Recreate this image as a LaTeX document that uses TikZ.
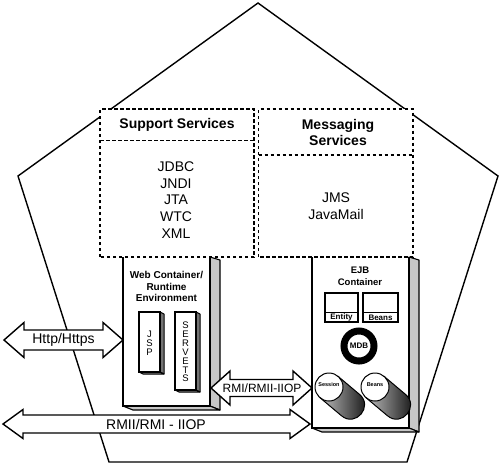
\documentclass[tikz,border=0pt]{standalone}
\usepackage{fontspec}
\setmainfont{Liberation Sans}
\begin{document}
\begin{tikzpicture}[x=1pt,y=-1pt,
  outline/.style={line width=1.4pt, line join=miter},
  dashline/.style={line width=1.5pt, dash pattern=on 3.5pt off 2.5pt},
  sidepanel/.style={fill=black!22, draw=black, line width=1.1pt, line join=round},
  darksidepanel/.style={fill=black!55, draw=black, line width=1pt, line join=round},
  dblarrow/.style={draw=black, fill=white, line width=1.4pt, line join=miter},
  lbl/.style={font=\fontsize{14}{16.6}\selectfont, align=center, inner sep=0pt},
  boldlbl/.style={font=\fontsize{14}{16}\selectfont\bfseries, align=center, inner sep=0pt},
  smallbold/.style={font=\fontsize{10}{11.5}\selectfont\bfseries, align=center, inner sep=0pt},
  letters/.style={font=\fontsize{9.5}{8.9}\selectfont, align=center, inner sep=0pt},
  tinybold/.style={font=\fontsize{8}{9}\selectfont\bfseries, inner sep=0pt},
  cyltext/.style={font=\fontsize{5.5}{6}\selectfont\bfseries, inner sep=0pt}]
\useasboundingbox (0,0) rectangle (500,464);
\fill[white] (0,0) rectangle (500,464);

% pentagon
\draw[outline] (258,3) -- (498,176) -- (407,462) -- (109,462) -- (18,176) -- cycle;

% services area background
\fill[white] (100,109) rectangle (413,257);

% ---------------- Web container ----------------
\fill[white] (123,257) rectangle (210,406);
\draw[sidepanel] (210,257) -- (220,260) -- (220,410) -- (210,406) -- cycle;
\draw[sidepanel] (123,406) -- (210,406) -- (220,410) -- (133,410) -- cycle;
\draw[outline] (123,257) -- (123,406) -- (210,406) -- (210,257);
\node[smallbold] (webtitle) at (166.5,286.5) {Web Container/\\Runtime\\Environment};

% JSP
\draw[darksidepanel] (160,312) -- (164,314) -- (164,374) -- (160,372) -- cycle;
\draw[darksidepanel] (139,372) -- (160,372) -- (164,374) -- (143,374) -- cycle;
\draw[outline, line width=1.1pt, fill=white] (139,312) rectangle (160,372);
\node[letters] (jsp) at (149.5,343) {J\\S\\P};

% SERVETS
\draw[darksidepanel] (196,312) -- (200,314) -- (200,392) -- (196,390) -- cycle;
\draw[darksidepanel] (175,390) -- (196,390) -- (200,392) -- (179,392) -- cycle;
\draw[outline, line width=1.1pt, fill=white] (175,312) rectangle (196,390);
\node[letters] (servets) at (185.5,352) {S\\E\\R\\V\\E\\T\\S};

% ---------------- EJB container ----------------
\fill[white] (312,257) rectangle (409,428);
\draw[sidepanel] (409,257) -- (419,260) -- (419,432) -- (409,428) -- cycle;
\draw[sidepanel] (312,428) -- (409,428) -- (419,432) -- (322,432) -- cycle;
\draw[outline] (312,257) -- (312,428) -- (409,428) -- (409,257);
\node[font=\fontsize{9.5}{12}\selectfont\bfseries, align=center, inner sep=0pt] (ejbtitle) at (360,276) {EJB\\Container};

% Entity / Beans boxes
\draw[line width=1.2pt, fill=white] (325,293) rectangle (358,322);
\draw[line width=1.2pt] (325,312.5) -- (358,312.5);
\node[tinybold] (entity) at (341.5,317.5) {Entity};
\draw[line width=1.2pt, fill=white] (363,293) rectangle (398,322);
\draw[line width=1.2pt] (363,312.5) -- (398,312.5);
\node[tinybold] (beans1) at (380.5,317.5) {Beans};

% MDB ring
\draw[line width=7pt, fill=white] (359,346) circle[radius=15pt];
\node[tinybold] (mdb) at (359,346) {MDB};

% cylinders
\begin{scope}[shift={(329,387)}]
  \shade[left color=black!25, right color=black, draw=black, line width=1pt]
    (9,-10.7) -- (30.4,7.3) .. controls (44.7,19.3) and (26.7,40.7) .. (12.4,28.7) -- (-9,10.7) -- cycle;
  \draw[line width=1pt, fill=white] (0,0) circle[radius=14pt];
  \node[cyltext] (session) at (0,-2) {Session};
\end{scope}
\begin{scope}[shift={(375,387)}]
  \shade[left color=black!25, right color=black, draw=black, line width=1pt]
    (9,-10.7) -- (30.4,7.3) .. controls (44.7,19.3) and (26.7,40.7) .. (12.4,28.7) -- (-9,10.7) -- cycle;
  \draw[line width=1pt, fill=white] (0,0) circle[radius=14pt];
  \node[cyltext] (beans2) at (0,-2) {Beans};
\end{scope}

% ---------------- dashed service boxes ----------------
\draw[dashline] (100,257) -- (100,109) -- (254,109) -- (254,257) -- cycle;
\draw[dashline] (100,140.5) -- (254,140.5);
\draw[dashline] (258.5,257) -- (258.5,109) -- (413,109) -- (413,257) -- cycle;
\draw[dashline] (258.5,155) -- (413,155);
\node[boldlbl] (ssh) at (177,125) {Support Services};
\node[boldlbl] (msh) at (338,132) {Messaging\\Services};
\node[lbl] (sslist) at (176,200) {JDBC\\JNDI\\JTA\\WTC\\XML};
\node[lbl] (mslist) at (336,206) {JMS\\JavaMail};

% ---------------- double arrows ----------------
\coordinate (httpL) at (4,340);
\coordinate (webL) at (123,340);
\draw[dblarrow] (httpL) -- (24,322.5) -- (24,330) -- (103,330) -- (103,322.5) -- (webL)
  -- (103,357.5) -- (103,350) -- (24,350) -- (24,357.5) -- cycle;
\node[lbl] (http) at (63.5,340) {Http/Https};

\coordinate (webR) at (211,388);
\coordinate (ejbL) at (312,388);
\draw[dblarrow] (webR) -- (230,371) -- (230,379.5) -- (293,379.5) -- (293,371) -- (ejbL)
  -- (293,405) -- (293,396.5) -- (230,396.5) -- (230,405) -- cycle;
\node[font=\fontsize{12}{14}\selectfont, inner sep=0pt] (rmi) at (262,388.5) {RMI/RMII-IIOP};

\coordinate (rmiiL) at (3,424);
\coordinate (ejbLL) at (310,424);
\draw[dblarrow] (rmiiL) -- (23,409.5) -- (23,415) -- (290,415) -- (290,409.5) -- (ejbLL)
  -- (290,438.5) -- (290,433) -- (23,433) -- (23,438.5) -- cycle;
\node[lbl] (rmii) at (156,424.5) {RMII/RMI - IIOP};
\end{tikzpicture}
\end{document}
